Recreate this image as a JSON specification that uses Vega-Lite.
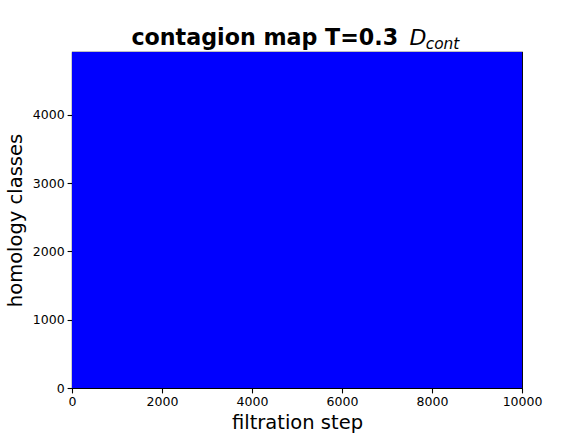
{
  "$schema": "https://vega.github.io/schema/vega-lite/v6.json",
  "width": 450,
  "height": 336,
  "autosize": {"type": "none"},
  "padding": {"left": 72, "top": 52, "right": 59, "bottom": 48},
  "background": "white",
  "config": {
    "font": "DejaVu Sans",
    "view": {"stroke": "black", "strokeWidth": 1.1},
    "axis": {
      "labelFont": "DejaVu Sans",
      "labelFontSize": 12.5,
      "labelColor": "black",
      "tickColor": "black",
      "tickSize": 4.9,
      "tickWidth": 1.1,
      "domainColor": "black",
      "domainWidth": 1.1,
      "grid": false,
      "titleFont": "DejaVu Sans",
      "titleFontSize": 19.5,
      "titleFontWeight": "normal",
      "titleColor": "black"
    }
  },
  "layer": [
    {
      "data": {"values": [
        {"birth": 0, "death": 10000, "lo": 0, "hi": 4920}
      ]},
      "mark": {"type": "rect", "color": "#0000ff"},
      "encoding": {
        "x": {
          "field": "birth", "type": "quantitative",
          "scale": {"domain": [0, 10000], "nice": false, "zero": false},
          "axis": {"values": [0, 2000, 4000, 6000, 8000, 10000], "format": "d", "title": "filtration step", "labelPadding": 3, "titleBaseline": "alphabetic", "titleY": 40, "labelFlush": false}
        },
        "x2": {"field": "death"},
        "y": {
          "field": "lo", "type": "quantitative",
          "scale": {"domain": [0, 4920], "nice": false, "zero": false},
          "axis": {"values": [0, 1000, 2000, 3000, 4000], "format": "d", "title": "homology classes", "labelPadding": 3, "titleBaseline": "alphabetic", "titleX": -51, "titleY": 168, "titleAngle": -90, "labelFlush": false}
        },
        "y2": {"field": "hi"}
      }
    },
    {
      "data": {"values": [{}]},
      "mark": {"type": "text", "align": "left", "baseline": "alphabetic", "font": "DejaVu Sans", "fontWeight": "bold", "fontSize": 22.2, "color": "black"},
      "encoding": {
        "x": {"datum": 1320, "type": "quantitative"},
        "y": {"datum": 5022, "type": "quantitative"},
        "text": {"value": "contagion map T=0.3"}
      }
    },
    {
      "data": {"values": [{}]},
      "mark": {"type": "text", "align": "left", "baseline": "alphabetic", "font": "DejaVu Sans", "fontStyle": "italic", "fontSize": 22, "color": "black"},
      "encoding": {
        "x": {"datum": 7500, "type": "quantitative"},
        "y": {"datum": 5022, "type": "quantitative"},
        "text": {"value": "D"}
      }
    },
    {
      "data": {"values": [{}]},
      "mark": {"type": "text", "align": "left", "baseline": "alphabetic", "font": "DejaVu Sans", "fontStyle": "italic", "fontSize": 15.4, "color": "black"},
      "encoding": {
        "x": {"datum": 7860, "type": "quantitative"},
        "y": {"datum": 4971, "type": "quantitative"},
        "text": {"value": "cont"}
      }
    }
  ]
}
